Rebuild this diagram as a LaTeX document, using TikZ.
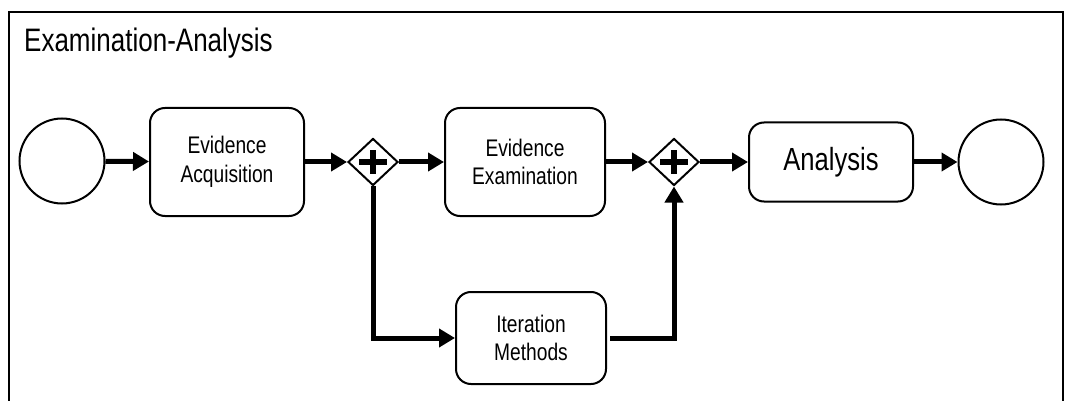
\documentclass[tikz,border=0pt]{standalone}
\usepackage{fontspec}
\setmainfont{Liberation Sans}[FakeStretch=0.8]
\usetikzlibrary{arrows.meta,shapes.geometric}

\begin{document}
\begin{tikzpicture}[x=1pt,y=-1pt,
  task/.style={draw, line width=2pt, rounded corners=15pt, align=center,
    font=\fontsize{24}{28.5}\selectfont, inner sep=0pt},
  event/.style={draw, circle, line width=2pt, minimum size=85pt, inner sep=0pt},
  gate/.style={draw, diamond, line width=2pt, minimum width=50pt,
    minimum height=47pt, inner sep=0pt},
  plus/.style={line width=6pt},
  flow/.style={line width=5pt, -{Triangle[length=16pt,width=18pt]}}]

  \useasboundingbox (0,0) rectangle (1066,401);

  % pool frame, open at the bottom
  \draw[line width=2.5pt] (9,401) -- (9,12) -- (1063,12) -- (1063,401);
  \node[anchor=base west, inner sep=0pt, font=\fontsize{32.5}{36}\selectfont]
    (title) at (24,52) {Examination-Analysis};

  % events, tasks and gateways
  \node[event] (start) at (62,161) {};
  \node[task, minimum width=154pt, minimum height=108pt] (acq) at (227,162) {Evidence\\Acquisition};
  \node[gate] (g1) at (373,162) {};
  \node[task, minimum width=160pt, minimum height=108pt] (exam) at (525,162) {Evidence\\Examination};
  \node[gate] (g2) at (674,162) {};
  \node[task, minimum width=164pt, minimum height=79pt,
    font=\fontsize{32}{36}\selectfont] (ana) at (831,162) {Analysis};
  \node[event] (end) at (1001,162) {};
  \node[task, minimum width=150pt, minimum height=92pt] (iter) at (531,338) {Iteration\\Methods};

  % parallel gateway markers
  \foreach \g in {g1,g2} {
    \draw[plus] ([xshift=-14pt]\g.center) -- ([xshift=14pt]\g.center);
    \draw[plus] ([yshift=-12pt]\g.center) -- ([yshift=12pt]\g.center);
  }

  % sequence flows
  \draw[flow] (start) -- (acq);
  \draw[flow] (acq) -- (g1);
  \draw[flow] (g1) -- (exam);
  \draw[flow] (exam) -- (g2);
  \draw[flow] (g2) -- (ana);
  \draw[flow] (ana) -- (end);
  \draw[flow] (g1.south) |- (iter.west);
  \draw[flow, shorten <=3pt] (iter.east) -| (g2.south);
\end{tikzpicture}
\end{document}
